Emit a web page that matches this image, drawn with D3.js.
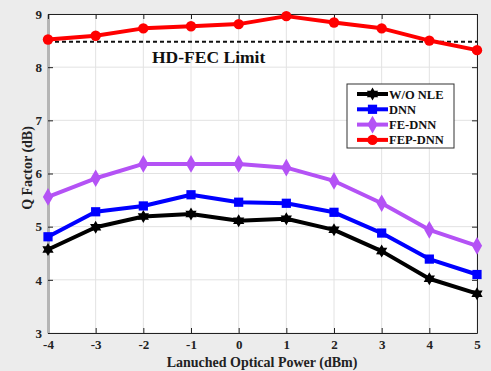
<html>
<head>
  <meta charset="utf-8">
  <script src='https://cdn.jsdelivr.net/npm/d3@7/dist/d3.min.js'></script>
  <style>
    body { margin: 0; background: #ececec; }
  </style>
</head>
<body>
<script>

var power = [-4, -3, -2, -1, 0, 1, 2, 3, 4, 5];
var woNle = [4.57, 4.99, 5.19, 5.24, 5.11, 5.15, 4.94, 4.54, 4.02, 3.74];
var dnn = [4.81, 5.28, 5.39, 5.60, 5.46, 5.44, 5.27, 4.88, 4.39, 4.10];
var feDnn = [5.56, 5.91, 6.18, 6.18, 6.18, 6.11, 5.86, 5.44, 4.94, 4.64];
var fepDnn = [8.52, 8.59, 8.73, 8.77, 8.81, 8.96, 8.84, 8.73, 8.50, 8.32];
var hdFec = 8.48;
var yTicks = [3, 4, 5, 6, 7, 8, 9];

var width = 491,
    height = 371;
var serif = "Liberation Serif";

var svg = d3.select('body')
  .append('svg')
  .attr('width', width)
  .attr('height', height);

svg.append('rect').attr('width', width).attr('height', height).attr('fill', '#ececec');

var x = d3.scaleLinear().domain([-4, 5]).range([48, 477]);
var y = d3.scaleLinear().domain([3, 9]).range([333, 14]);

svg.append('rect')
  .attr('x', 48).attr('y', 14)
  .attr('width', 429).attr('height', 319)
  .attr('fill', 'white');

// grid
var grid = svg.append('g');
grid.selectAll('.gx').data(power).enter().append('line')
  .attr('x1', d => x(d)).attr('x2', d => x(d))
  .attr('y1', 14).attr('y2', 333)
  .attr('stroke', '#e2e2e2').attr('stroke-width', 1);
grid.selectAll('.gy').data(yTicks).enter().append('line')
  .attr('x1', 48).attr('x2', 477)
  .attr('y1', d => y(d)).attr('y2', d => y(d))
  .attr('stroke', '#e2e2e2').attr('stroke-width', 1);

// axes
var fmt = d => String(d);
var xAxis = svg.append('g')
  .attr('transform', 'translate(0,333)')
  .call(d3.axisBottom(x).tickValues(power).tickSizeInner(-5).tickSizeOuter(0).tickPadding(7).tickFormat(fmt));
var yAxis = svg.append('g')
  .attr('transform', 'translate(48,0)')
  .call(d3.axisLeft(y).tickValues(yTicks).tickSizeInner(-5).tickSizeOuter(0).tickPadding(6).tickFormat(fmt));
svg.append('g')
  .attr('transform', 'translate(0,14)')
  .call(d3.axisTop(x).tickValues(power).tickSizeInner(-5).tickSizeOuter(0).tickFormat(''));
svg.append('g')
  .attr('transform', 'translate(477,0)')
  .call(d3.axisRight(y).tickValues(yTicks).tickSizeInner(-5).tickSizeOuter(0).tickFormat(''));

svg.selectAll('.tick line').attr('stroke', '#222');
svg.selectAll('.domain').attr('stroke', '#222');
yAxis.select('.domain').attr('stroke', '#b5b5b5').attr('stroke-width', 3);
svg.selectAll('g').attr('font-family', serif);
svg.selectAll('.tick text')
  .attr('font-size', 13).attr('fill', '#222')
  .attr('font-family', serif).attr('font-weight', 'bold');

// HD-FEC limit
svg.append('line')
  .attr('x1', x(-4)).attr('x2', x(5))
  .attr('y1', y(hdFec)).attr('y2', y(hdFec))
  .attr('stroke', '#111').attr('stroke-width', 2)
  .attr('stroke-dasharray', '4,3');
svg.append('text')
  .attr('x', 152).attr('y', 63)
  .attr('font-family', serif).attr('font-weight', 'bold')
  .attr('font-size', 17.5).attr('fill', '#111')
  .text('HD-FEC Limit');

var series = [
  { name: 'W/O NLE', vals: woNle, color: '#000000', marker: 'star' },
  { name: 'DNN', vals: dnn, color: '#0000ff', marker: 'square' },
  { name: 'FE-DNN', vals: feDnn, color: '#b452f5', marker: 'diamond' },
  { name: 'FEP-DNN', vals: fepDnn, color: '#ff0000', marker: 'circle' }
];

var symbols = {
  square: d3.symbol().type(d3.symbolSquare).size(85),
  diamond: d3.symbol().type(d3.symbolDiamond).size(90),
  circle: d3.symbol().type(d3.symbolCircle).size(85)
};

// hexagram path for the black markers
function hexagram(r) {
  var pts = [];
  for (var i = 0; i < 12; i++) {
    var a = Math.PI / 6 * i - Math.PI / 2;
    var rr = i % 2 == 0 ? r : r * 0.58;
    pts.push([rr * Math.cos(a), rr * Math.sin(a)]);
  }
  return 'M' + pts.join('L') + 'Z';
}

function markerPath(m) {
  if (m == 'star') return hexagram(6.5);
  return symbols[m]();
}

var line = d3.line()
  .x((d, i) => x(power[i]))
  .y(d => y(d));

series.forEach(function(s) {
  var g = svg.append('g');
  g.append('path')
    .attr('d', line(s.vals))
    .attr('fill', 'none')
    .attr('stroke', s.color)
    .attr('stroke-width', 4)
    .attr('stroke-linejoin', 'round');
  g.selectAll('path.m').data(s.vals).enter().append('path')
    .attr('class', 'm')
    .attr('d', markerPath(s.marker))
    .attr('transform', (d, i) => 'translate(' + x(power[i]) + ',' + y(d) + ')')
    .attr('fill', s.color);
});

// legend
var lg = svg.append('g');
lg.append('rect')
  .attr('x', 347).attr('y', 84).attr('width', 107).attr('height', 64)
  .attr('fill', 'white').attr('stroke', '#333').attr('stroke-width', 1);
series.forEach(function(s, i) {
  var ly = 94 + i * 15.3;
  lg.append('line')
    .attr('x1', 357).attr('x2', 388).attr('y1', ly).attr('y2', ly)
    .attr('stroke', s.color).attr('stroke-width', 4);
  lg.append('path')
    .attr('d', markerPath(s.marker))
    .attr('transform', 'translate(372.5,' + ly + ')')
    .attr('fill', s.color);
  lg.append('text')
    .attr('x', 389).attr('y', ly + 4.5)
    .attr('font-family', serif).attr('font-weight', 'bold')
    .attr('font-size', 12.5).attr('fill', '#111')
    .text(s.name);
});

// axis labels
svg.append('text')
  .attr('x', 262).attr('y', 367)
  .attr('text-anchor', 'middle')
  .attr('font-family', serif).attr('font-weight', 'bold')
  .attr('font-size', 14).attr('fill', '#222')
  .text('Lanuched Optical Power (dBm)');
svg.append('text')
  .attr('transform', 'translate(32,168) rotate(-90)')
  .attr('text-anchor', 'middle')
  .attr('font-family', serif).attr('font-weight', 'bold')
  .attr('font-size', 14).attr('fill', '#222')
  .text('Q Factor (dB)');

</script>
</body>
</html>
